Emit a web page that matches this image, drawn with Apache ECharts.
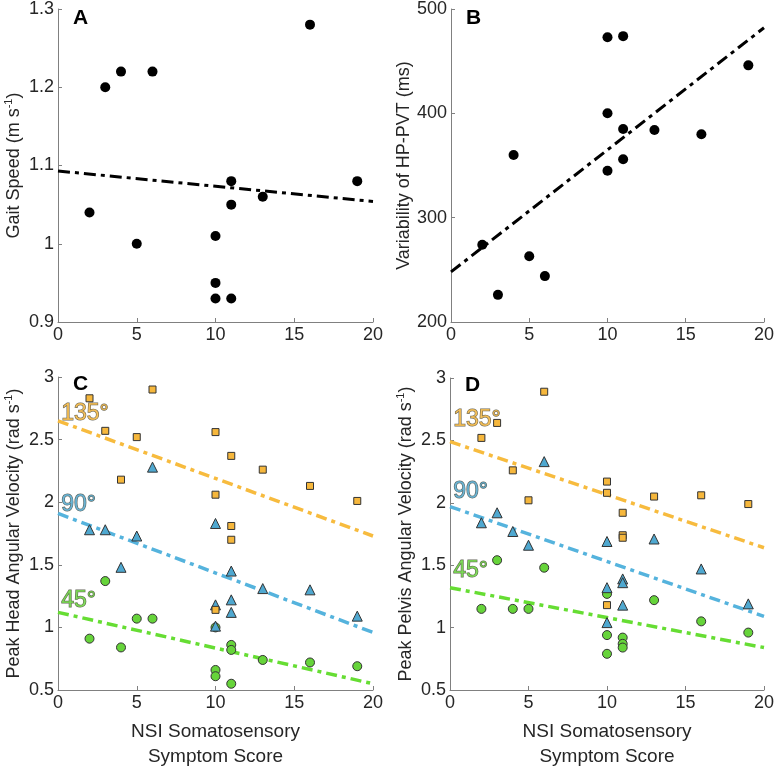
<!DOCTYPE html>
<html>
<head>
<meta charset="utf-8">
<script src="https://cdn.jsdelivr.net/npm/echarts@6/dist/echarts.min.js"></script>
<style>
html,body{margin:0;padding:0;background:#fff;}
#chart{width:777px;height:770px;}
</style>
</head>
<body>
<div id="chart"></div>
<script>
// ---- Data ----
const nsiScore = [2, 3, 4, 5, 6, 10, 10, 10, 11, 11, 11, 13, 16, 19];
const gaitX = [2, 3, 4, 5, 6, 10, 10, 10, 11, 11, 11, 13, 16, 19];
const gaitSpeed = [1.04, 1.20, 1.22, 1.00, 1.22, 1.01, 0.95, 0.93, 1.08, 1.05, 0.93, 1.06, 1.28, 1.08];
const pvtX = [2, 3, 4, 5, 6, 10, 10, 10, 11, 11, 11, 13, 16, 19];
const pvtVar = [274, 226, 360, 263, 244, 473, 400, 345, 474, 385, 356, 384, 380, 446];

const head135 = [2.83, 2.57, 2.18, 2.52, 2.90, 2.56, 2.06, 1.14, 2.37, 1.81, 1.70, 2.26, 2.13, 2.01];
const head90  = [1.78, 1.78, 1.48, 1.73, 2.28, 1.83, 1.18, 1.01, 1.45, 1.22, 1.12, 1.31, 1.30, 1.09];
const head45  = [0.91, 1.37, 0.84, 1.07, 1.07, 1.00, 0.66, 0.61, 0.86, 0.82, 0.55, 0.74, 0.72, 0.69];

const pelvis135 = [2.52, 2.64, 2.26, 2.02, 2.89, 2.17, 2.08, 1.18, 1.92, 1.74, 1.72, 2.05, 2.06, 1.99];
const pelvis90  = [1.84, 1.92, 1.77, 1.66, 2.33, 1.69, 1.32, 1.04, 1.39, 1.36, 1.18, 1.71, 1.47, 1.19];
const pelvis45  = [1.15, 1.54, 1.15, 1.15, 1.48, 1.27, 0.94, 0.79, 0.92, 0.87, 0.84, 1.22, 1.05, 0.96];

// regression line endpoints (x = 0 and x = 20)
const fitX = [0, 20];
const fitGait = [1.093, 1.054];
const fitPvt = [248, 482];
const fitHead135 = [2.65, 1.73];
const fitHead90 = [1.91, 0.96];
const fitHead45 = [1.12, 0.55];
const fitPelvis135 = [2.49, 1.64];
const fitPelvis90 = [1.97, 1.09];
const fitPelvis45 = [1.32, 0.84];

const xTicks = [0, 5, 10, 15, 20];
const angleLabels = ['135°', '90°', '45°'];

// ---- Styling ----
const FONT = 'Liberation Sans, Arial, Helvetica, sans-serif';
const TXT = '#262626';
const AX = '#808080';
const ORANGE = '#F6B73C';
const BLUE = '#4FA8D0';
const GREEN = '#66D43A';
const ORANGE_L = '#F7BB3E';
const BLUE_L = '#55B3DD';
const GREEN_L = '#66DD33';
const FS = 18;

const pairs = (xs, ys) => xs.map((x, i) => [x, ys[i]]);

function xAx(idx, withName) {
  const a = {
    type: 'value', gridIndex: idx, min: xTicks[0], max: xTicks[xTicks.length - 1], interval: 5,
    axisLine: {show: true, lineStyle: {color: AX, width: 1}},
    axisTick: {show: true, inside: true, length: 4, lineStyle: {color: AX}},
    splitLine: {show: false},
    axisLabel: {color: TXT, fontSize: FS, fontFamily: FONT, margin: 4}
  };
  if (withName) {
    a.name = 'NSI Somatosensory\nSymptom Score';
    a.nameLocation = 'middle';
    a.nameGap = 29;
    a.nameTextStyle = {color: TXT, fontSize: 19, fontFamily: FONT, lineHeight: 25};
  }
  return a;
}
function yAx(idx, min, max, interval, nameMain, nameGap) {
  return {
    type: 'value', gridIndex: idx, min: min, max: max, interval: interval,
    axisLine: {show: true, lineStyle: {color: AX, width: 1}},
    axisTick: {show: true, inside: true, length: 4, lineStyle: {color: AX}},
    splitLine: {show: false},
    axisLabel: {color: TXT, fontSize: FS, fontFamily: FONT, margin: 4},
    name: '{n|' + nameMain + '}{s|-1}{n|)}',
    nameLocation: 'middle',
    nameGap: nameGap,
    nameTextStyle: {
      color: TXT, fontFamily: FONT,
      rich: {
        n: {fontSize: FS, color: TXT, fontFamily: FONT, lineHeight: 22},
        s: {fontSize: 11, color: TXT, fontFamily: FONT, verticalAlign: 'top', lineHeight: 22}
      }
    }
  };
}

function scatter(idx, xs, ys, symbol, size, color, border) {
  return {
    type: 'scatter', xAxisIndex: idx, yAxisIndex: idx, data: pairs(xs, ys),
    symbol: symbol, symbolSize: size, silent: true, z: 3,
    itemStyle: {color: color, borderColor: border, borderWidth: border ? 1 : 0, opacity: 1}
  };
}
function fit(idx, ys, color, width, dash) {
  return {
    type: 'line', xAxisIndex: idx, yAxisIndex: idx, data: pairs(fitX, ys),
    symbol: 'none', silent: true, z: 2,
    lineStyle: {color: color, width: width, type: dash}
  };
}
function angleLabel(idx, text, pos, color) {
  return {
    type: 'scatter', xAxisIndex: idx, yAxisIndex: idx, data: [pos],
    symbolSize: 0, silent: true, z: 5,
    label: {
      show: true, position: 'right', distance: 0, formatter: text,
      fontSize: 23, fontFamily: FONT, color: color,
      textBorderColor: '#3d3d30', textBorderWidth: 1
    }
  };
}

const dashBlack = [12, 5, 4, 5];
const dashColor = [11, 5, 4, 5];

const option = {
  animation: false,
  backgroundColor: '#ffffff',
  title: [
    {text: 'A', left: 68, top: 3, textStyle: {fontSize: 21, fontWeight: 'bold', color: '#000', fontFamily: FONT}},
    {text: 'B', left: 461, top: 3, textStyle: {fontSize: 21, fontWeight: 'bold', color: '#000', fontFamily: FONT}},
    {text: 'C', left: 68, top: 369, textStyle: {fontSize: 21, fontWeight: 'bold', color: '#000', fontFamily: FONT}},
    {text: 'D', left: 460, top: 370, textStyle: {fontSize: 21, fontWeight: 'bold', color: '#000', fontFamily: FONT}}
  ],
  grid: [
    {left: 58, top: 8, width: 315, height: 314},
    {left: 451, top: 8, width: 315, height: 314},
    {left: 58, top: 377, width: 315, height: 315},
    {left: 450, top: 378, width: 314, height: 314}
  ],
  xAxis: [xAx(0, false), xAx(1, false), xAx(2, true), xAx(3, true)],
  yAxis: [
    yAx(0, 0.9, 1.3, 0.1, 'Gait Speed (m s', 33),
    (function () {
      const a = yAx(1, 200, 500, 100, '', 35);
      a.name = 'Variability of HP-PVT (ms)';
      a.nameTextStyle = {color: TXT, fontSize: FS, fontFamily: FONT};
      return a;
    })(),
    yAx(2, 0.5, 3, 0.5, 'Peak Head Angular Velocity (rad s', 33),
    yAx(3, 0.5, 3, 0.5, 'Peak Pelvis Angular Velocity (rad s', 33)
  ],
  series: [
    fit(0, fitGait, '#000', 3, dashBlack),
    scatter(0, gaitX, gaitSpeed, 'circle', 10, '#000', null),
    fit(1, fitPvt, '#000', 3, dashBlack),
    scatter(1, pvtX, pvtVar, 'circle', 10, '#000', null),

    fit(2, fitHead135, ORANGE_L, 3.5, dashColor),
    fit(2, fitHead90, BLUE_L, 3.5, dashColor),
    fit(2, fitHead45, GREEN_L, 3.5, dashColor),
    scatter(2, nsiScore, head45, 'circle', 9, GREEN, '#333'),
    scatter(2, nsiScore, head90, 'triangle', 10, BLUE, '#333'),
    scatter(2, nsiScore, head135, 'rect', 7, ORANGE, '#333'),
    angleLabel(2, angleLabels[0], [0.2, 2.71], ORANGE),
    angleLabel(2, angleLabels[1], [0.2, 1.98], BLUE),
    angleLabel(2, angleLabels[2], [0.2, 1.21], GREEN),

    fit(3, fitPelvis135, ORANGE_L, 3.5, dashColor),
    fit(3, fitPelvis90, BLUE_L, 3.5, dashColor),
    fit(3, fitPelvis45, GREEN_L, 3.5, dashColor),
    scatter(3, nsiScore, pelvis45, 'circle', 9, GREEN, '#333'),
    scatter(3, nsiScore, pelvis90, 'triangle', 10, BLUE, '#333'),
    scatter(3, nsiScore, pelvis135, 'rect', 7, ORANGE, '#333'),
    angleLabel(3, angleLabels[0], [0.2, 2.67], ORANGE),
    angleLabel(3, angleLabels[1], [0.2, 2.09], BLUE),
    angleLabel(3, angleLabels[2], [0.2, 1.455], GREEN)
  ]
};

const chart = echarts.init(document.getElementById('chart'), null, {renderer: 'canvas'});
chart.setOption(option);
</script>
</body>
</html>
